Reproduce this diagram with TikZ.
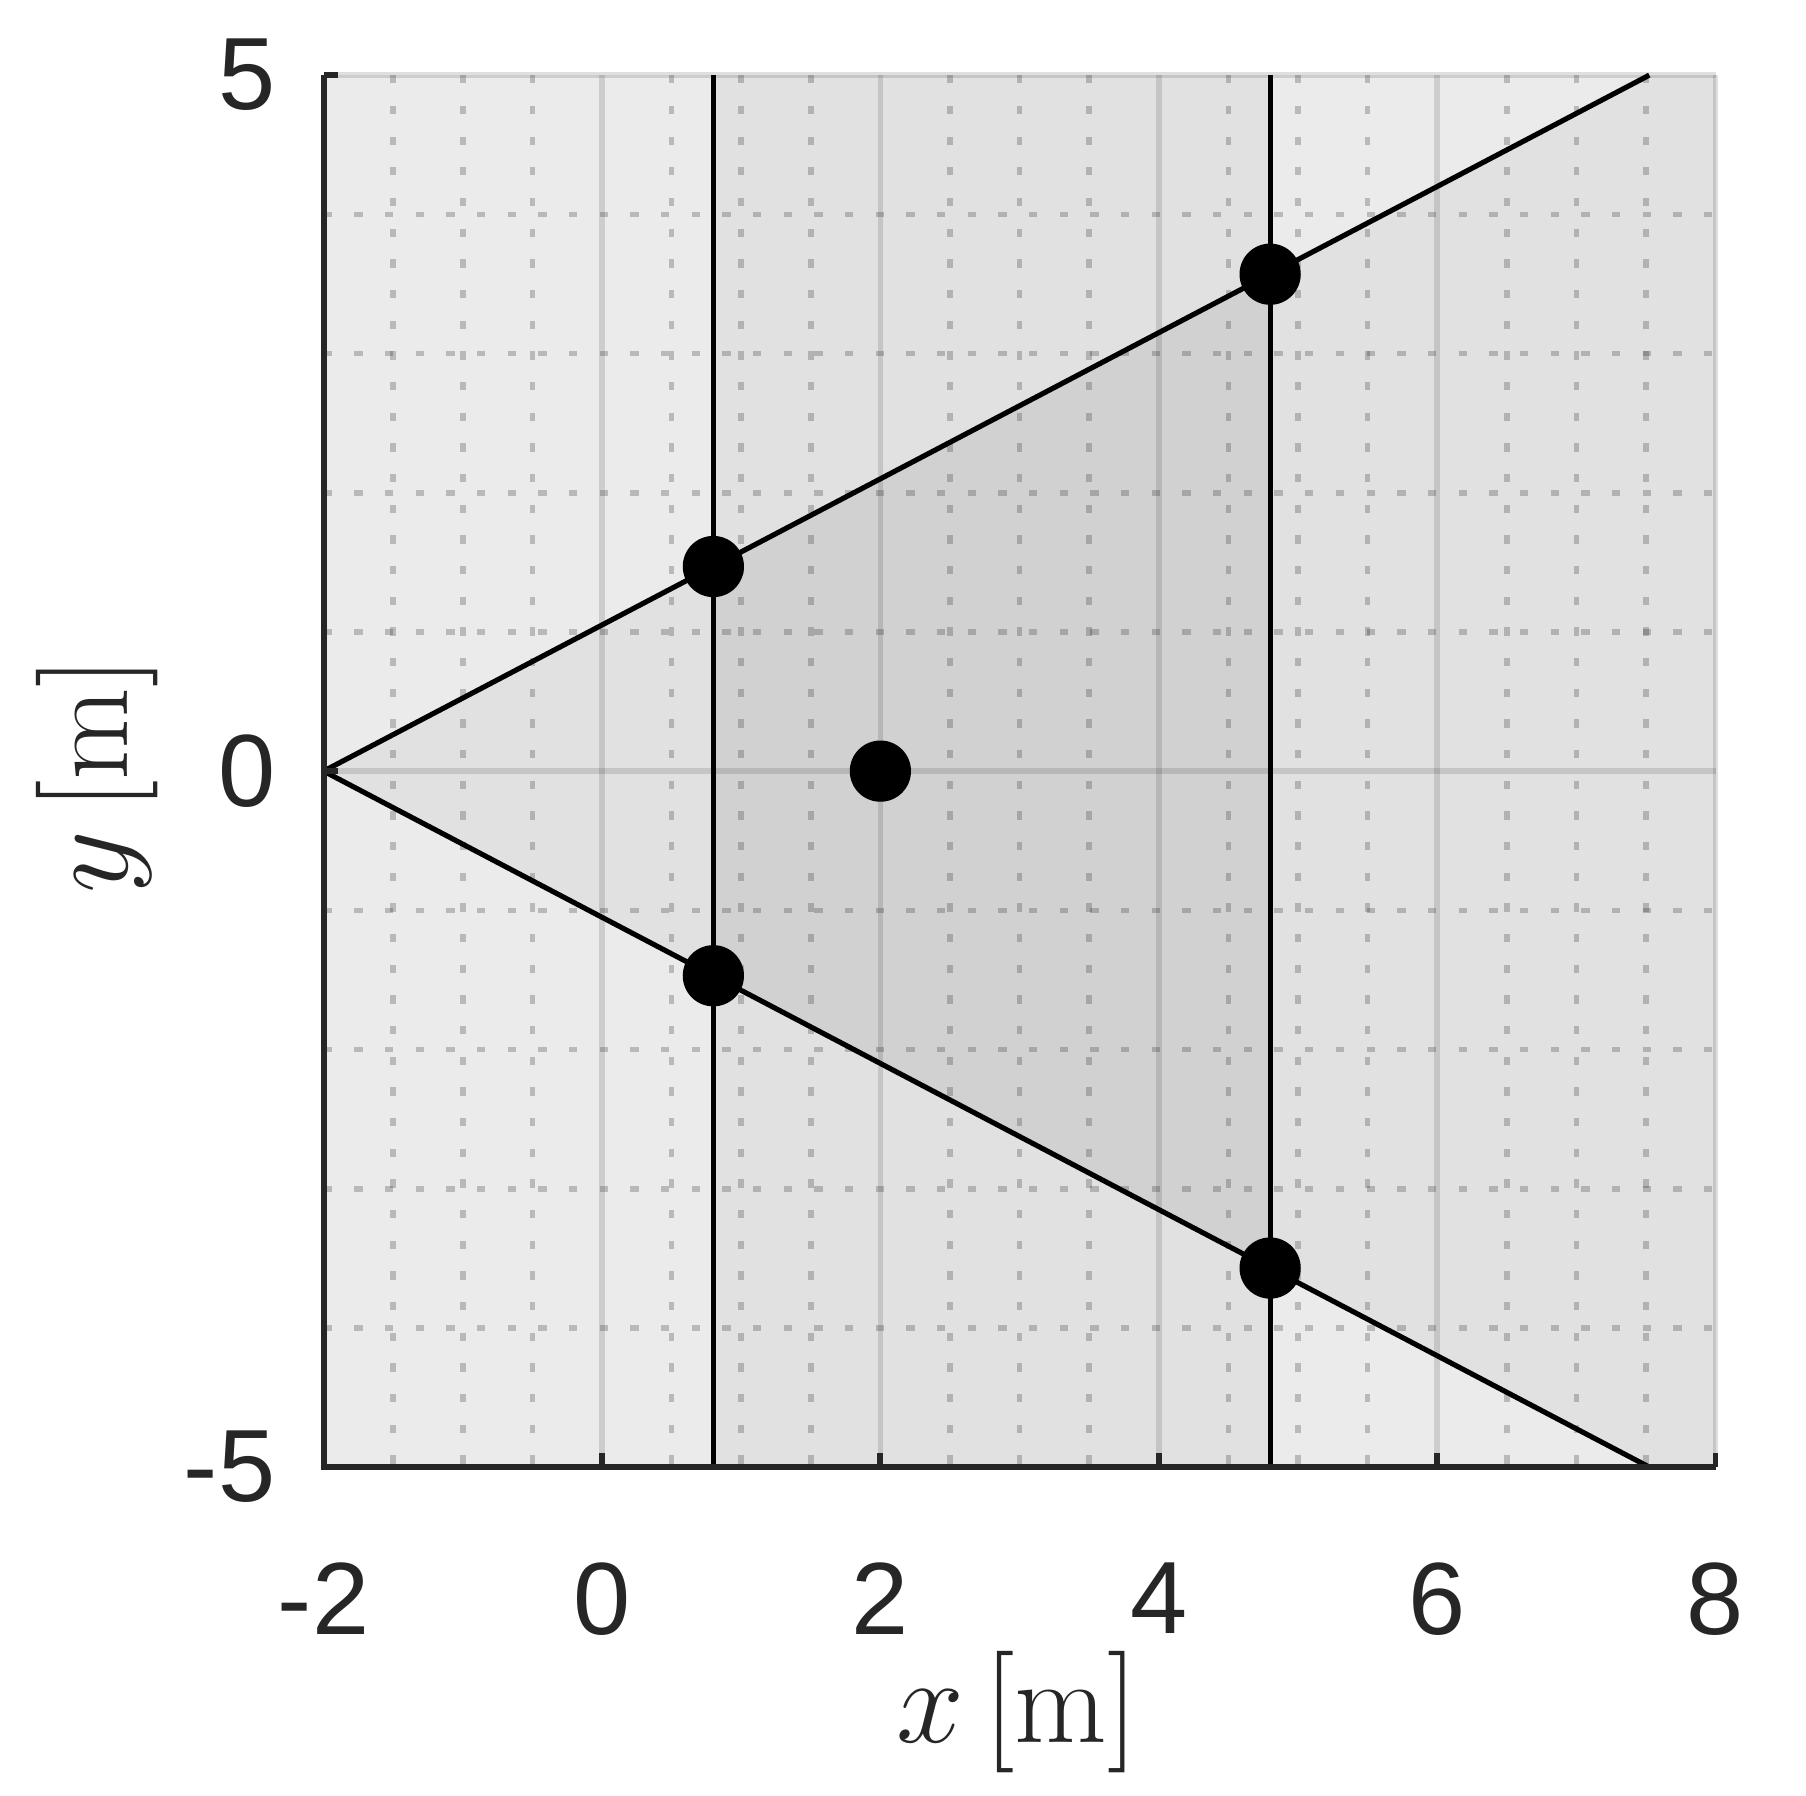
\documentclass[tikz,border=0pt]{standalone}
\usepackage{fontspec}
\usepackage{amsmath}
\newfontfamily\tickfont{Liberation Sans}
\definecolor{axisgray}{HTML}{262626}
\definecolor{bgfill}{HTML}{EBEBEB}
\definecolor{bandfill}{HTML}{E1E1E1}
\definecolor{overlapfill}{HTML}{D1D1D1}

\begin{document}
\begin{tikzpicture}[x=1cm,y=1cm,
    point node/.style={circle,fill=black,inner sep=0pt,minimum size=0.44cm},
    ray/.style={black,line width=1.05pt},
    grid major/.style={draw=axisgray,draw opacity=0.15,line width=1.15pt},
    grid minor/.style={draw=axisgray,draw opacity=0.25,line width=1.15pt,dash pattern=on 1.7pt off 4.57pt},
    axis line/.style={draw=axisgray,line width=1.2pt},
    tick label/.style={text=axisgray,inner sep=0pt,font=\tickfont\fontsize{21}{24}\selectfont},
    axis label/.style={text=axisgray,inner sep=0pt,font=\fontsize{24.5}{28}\selectfont}]
  \useasboundingbox (-4.325,-7.36) rectangle (8.65,5.54);

  % shaded regions
  \coordinate (apex) at (-2,0);
  \coordinate (uend) at (7.524,5);
  \coordinate (lend) at (7.524,-5);
  \coordinate (neartop) at (0.8,5);
  \coordinate (nearbot) at (0.8,-5);
  \coordinate (fartop) at (4.8,5);
  \coordinate (farbot) at (4.8,-5);
  \fill[bgfill] (-2,-5) rectangle (8,5);
  \fill[bandfill] (apex) -- (uend) -- (8,5) -- (8,-5) -- (lend) -- cycle;
  \fill[bandfill] (nearbot) rectangle (fartop);
  \fill[overlapfill] (0.8,1.47) -- (4.8,3.57) -- (4.8,-3.57) -- (0.8,-1.47) -- cycle;

  % grid
  \foreach \gx in {-2,0,...,6}
    \foreach \dx in {0.5,1,1.5}
      \draw[grid minor] ({\gx+\dx},5) -- ({\gx+\dx},-5);
  \foreach \gy in {-4,-3,-2,-1,1,2,3,4}
    \draw[grid minor] (-2,\gy) -- (8,\gy);
  \foreach \gx in {-2,0,...,8}
    \draw[grid major] (\gx,-5) -- (\gx,5);
  \foreach \gy in {-5,0,5}
    \draw[grid major] (-2,\gy) -- (8,\gy);

  % rays and planes
  \draw[ray] (apex) -- (uend);
  \draw[ray] (apex) -- (lend);
  \draw[ray] (nearbot) -- (neartop);
  \draw[ray] (farbot) -- (fartop);

  % points
  \node[point node] (nearup) at (0.8,1.47) {};
  \node[point node] (neardown) at (0.8,-1.47) {};
  \node[point node] (farup) at (4.8,3.57) {};
  \node[point node] (fardown) at (4.8,-3.57) {};
  \node[point node] (centre) at (2,0) {};

  % axes
  \draw[axis line] (-2,5) -- (-2,-5) -- (8,-5);
  \foreach \tx in {0,2,...,8}
    \draw[axis line] (\tx,-5) -- (\tx,-4.9);
  \foreach \ty in {0,5}
    \draw[axis line] (-2,\ty) -- (-1.9,\ty);
  \foreach \tx [count=\i] in {-2,0,...,8}
    \node[tick label,anchor=north] (xtick\i) at (\tx,-5.68) {\tx};
  \foreach \ty [count=\i] in {-5,0,5}
    \node[tick label,anchor=east] (ytick\i) at (-2.34,\ty) {\ty};
  \node[axis label,anchor=base] (xlabel) at (2.98,-6.98) {$x\,[\mathrm{m}]$};
  \node[axis label,anchor=base,rotate=90] (ylabel) at (-3.41,-0.03) {$y\,[\mathrm{m}]$};
\end{tikzpicture}
\end{document}
